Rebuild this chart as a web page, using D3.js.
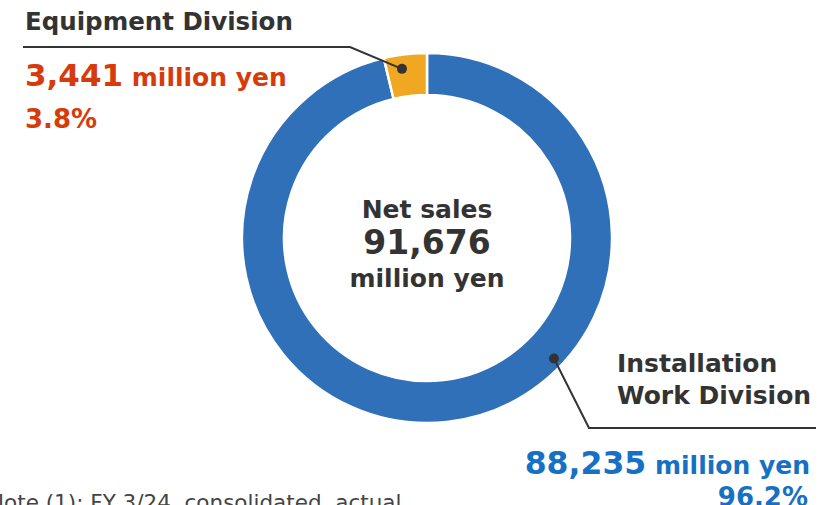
<!doctype html>
<html lang="en">
<head>
  <meta charset="utf-8">
  <title>Net sales by division</title>
  <style>
    body { margin: 0; background: #fff; }
    svg { display: block; font-family: "DejaVu Sans", Verdana, sans-serif; font-weight: bold; }
    .dark { fill: #333; }
    .note { font-weight: normal; fill: #444; font-size: 21.5px; }
  </style>
</head>
<body>
  <div id="chart"></div>
  <script src="https://cdn.jsdelivr.net/npm/d3@7"></script>
  <script>
  // data
  var divisions = ["Installation\nWork Division", "Equipment Division"];
  var sales = [88235, 3441];
  var shares = ["96.2%", "3.8%"];
  var colors = ["#3070b9", "#f0a822"];
  var textColors = ["#1670c3", "#d63c0b"];
  var totalSales = "91,676";

  var width = 829, height = 505;
  var cx = 427, cy = 238;

  var svg = d3.select("#chart").append("svg")
      .attr("width", width)
      .attr("height", height);

  var pie = d3.pie().sort(null).value(function(d) { return d; });
  var arc = d3.arc().innerRadius(143).outerRadius(185);
  var arcs = pie(sales);

  var g = svg.append("g").attr("transform", "translate(" + cx + "," + cy + ")");
  g.selectAll("path")
    .data(arcs)
    .enter().append("path")
      .attr("d", arc)
      .attr("fill", function(d, i) { return colors[i]; })
      .attr("stroke", "#fff")
      .attr("stroke-width", 2.5);

  // center label
  var center = svg.append("text").attr("class", "dark").attr("text-anchor", "middle");
  center.append("tspan").attr("x", cx).attr("y", 218).style("font-size", "25px").text("Net sales");
  center.append("tspan").attr("x", cx).attr("y", 254).style("font-size", "33px").text(totalSales);
  center.append("tspan").attr("x", cx).attr("y", 287).style("font-size", "25px").text("million yen");

  // leader dots on the ring
  function onRing(a, r) { return [cx + r * Math.sin(a), cy - r * Math.cos(a)]; }
  var pInst = onRing(2.33, 175);
  var pEq = onRing(2 * Math.PI - 0.147, 171);

  var lines = svg.append("g").attr("fill", "none").attr("stroke", "#333").attr("stroke-width", 2);
  lines.append("polyline").attr("points", [[23, 47], [350, 47], pEq].join(" "));
  lines.append("polyline").attr("points", [pInst, [589, 428], [816, 428]].join(" "));
  svg.append("circle").attr("cx", pEq[0]).attr("cy", pEq[1]).attr("r", 5).attr("fill", "#333");
  svg.append("circle").attr("cx", pInst[0]).attr("cy", pInst[1]).attr("r", 5).attr("fill", "#333");

  // equipment labels
  svg.append("text").attr("class", "dark").attr("x", 25).attr("y", 30)
    .style("font-size", "24.5px").text(divisions[1]);
  var eq = svg.append("text").attr("x", 25).attr("y", 86).attr("fill", textColors[1]);
  eq.append("tspan").style("font-size", "31px").text(d3.format(",")(sales[1]));
  eq.append("tspan").style("font-size", "25px").text(" million yen");
  svg.append("text").attr("x", 25).attr("y", 128).attr("fill", textColors[1])
    .style("font-size", "26px").text(shares[1]);

  // installation labels
  var inst = svg.append("text").attr("class", "dark").style("font-size", "25px");
  divisions[0].split("\n").forEach(function(s, i) {
    inst.append("tspan").attr("x", 617).attr("y", 372 + i * 32).text(s);
  });
  var ins = svg.append("text").attr("x", 810).attr("y", 474).attr("text-anchor", "end").attr("fill", textColors[0]);
  ins.append("tspan").style("font-size", "31.5px").text(d3.format(",")(sales[0]));
  ins.append("tspan").style("font-size", "25px").text(" million yen");
  svg.append("text").attr("x", 808).attr("y", 506).attr("text-anchor", "end").attr("fill", textColors[0])
    .style("font-size", "26px").text(shares[0]);

  svg.append("text").attr("class", "note").attr("x", -12).attr("y", 510)
    .text("Note (1): FY 3/24, consolidated, actual");
  </script>
</body>
</html>
